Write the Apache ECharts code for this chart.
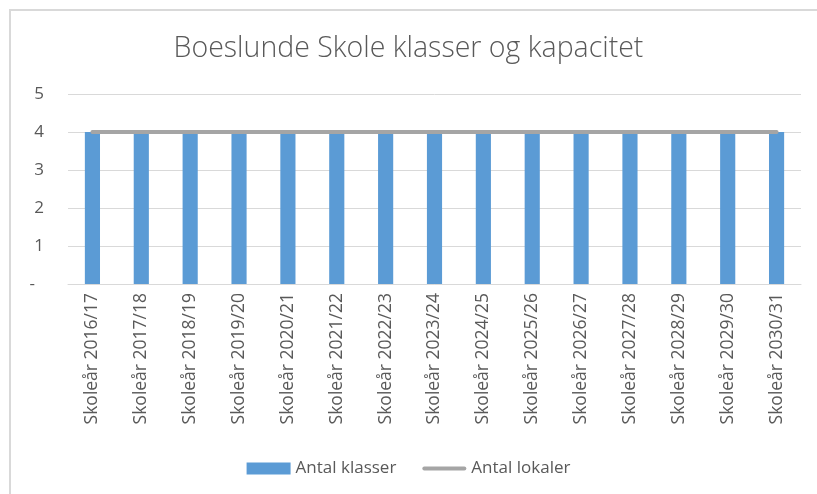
<!DOCTYPE html>
<html>
<head>
<meta charset="utf-8">
<script src="https://cdn.jsdelivr.net/npm/echarts@6/dist/echarts.min.js"></script>
<style>
  html, body { margin: 0; padding: 0; background: #fff; }
  #chart { width: 817px; height: 494px; }
</style>
</head>
<body>
<div id="chart"></div>
<script>
  // kategorier (skoleår)
  var categories = ['Skoleår 2016/17', 'Skoleår 2017/18', 'Skoleår 2018/19', 'Skoleår 2019/20', 'Skoleår 2020/21',
    'Skoleår 2021/22', 'Skoleår 2022/23', 'Skoleår 2023/24', 'Skoleår 2024/25', 'Skoleår 2025/26',
    'Skoleår 2026/27', 'Skoleår 2027/28', 'Skoleår 2028/29', 'Skoleår 2029/30', 'Skoleår 2030/31']
  var antalKlasser = [4, 4, 4, 4, 4, 4, 4, 4, 4, 4, 4, 4, 4, 4, 4]
  var antalLokaler = [4, 4, 4, 4, 4, 4, 4, 4, 4, 4, 4, 4, 4, 4, 4]

  var font = 'Open Sans'
  var chart = echarts.init(document.getElementById('chart'))
  chart.setOption({
    animation: false,
    textStyle: { fontFamily: font },
    // kant omkring diagrammet
    graphic: [{
      type: 'rect',
      shape: { x: 10, y: 10, width: 900, height: 600 },
      style: { fill: 'none', stroke: '#d9d9d9', lineWidth: 2 },
      z: -1
    }],
    title: {
      text: 'Boeslunde Skole klasser og kapacitet',
      left: 'center',
      top: 29,
      textStyle: { fontFamily: font, fontSize: 28.5, fontWeight: 300, color: '#595959' }
    },
    legend: {
      top: 455,
      left: 'center',
      itemGap: 26,
      itemWidth: 44,
      itemHeight: 12,
      textStyle: { fontFamily: font, fontSize: 17, color: '#595959' },
      data: [
        { name: 'Antal klasser', icon: 'rect' },
        { name: 'Antal lokaler', icon: 'path://M2,0 L42,0 A2,2 0 0 1 42,4 L2,4 A2,2 0 0 1 2,0 Z' }
      ]
    },
    grid: { left: 68, right: 16, top: 94, bottom: 210 },
    xAxis: {
      type: 'category',
      data: categories,
      axisLine: { lineStyle: { color: '#d9d9d9' } },
      axisTick: { show: false },
      axisLabel: { rotate: 90, fontFamily: font, fontSize: 17.5, color: '#595959', margin: 9 }
    },
    yAxis: {
      type: 'value',
      min: 0,
      max: 5,
      interval: 1,
      axisLine: { show: false },
      axisTick: { show: false },
      splitLine: { lineStyle: { color: '#d9d9d9' } },
      axisLabel: {
        fontFamily: font, fontSize: 17, color: '#595959', margin: 24,
        formatter: function (v) { return v === 0 ? '{z|-}' : v },
        rich: { z: { fontFamily: font, fontSize: 17, color: '#595959', padding: [0, 9, 0, 0] } }
      }
    },
    series: [
      {
        name: 'Antal klasser',
        type: 'bar',
        data: antalKlasser,
        barWidth: '31%',
        itemStyle: { color: '#5b9bd5' }
      },
      {
        name: 'Antal lokaler',
        type: 'line',
        data: antalLokaler,
        symbol: 'none',
        lineStyle: { color: '#a5a5a5', width: 4, cap: 'round' },
        itemStyle: { color: '#a5a5a5' }
      }
    ]
  })
</script>
</body>
</html>
